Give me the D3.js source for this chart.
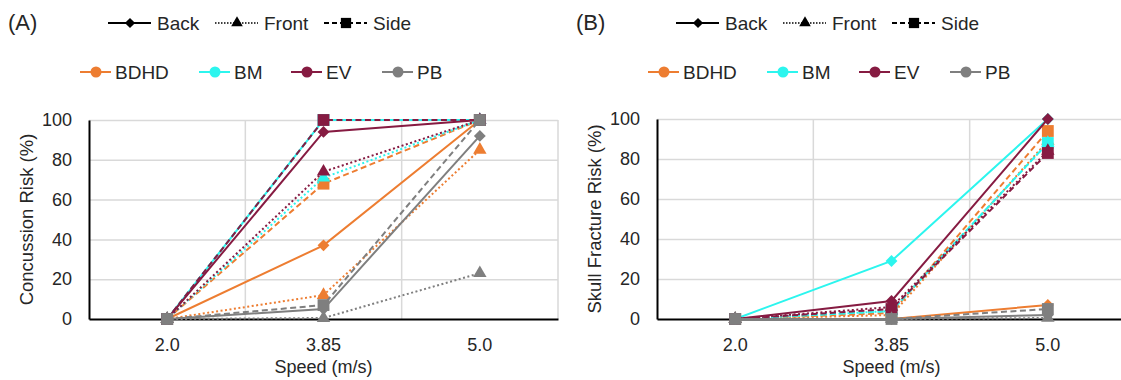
<!DOCTYPE html>
<html>
<head>
<meta charset="utf-8">
<script src="https://cdn.jsdelivr.net/npm/d3@7"></script>
<style>
  body { margin: 0; background: #fff; }
  svg { display: block; font-family: "Liberation Sans", Arial, sans-serif; }
</style>
</head>
<body>
<svg id="chart" width="1121" height="380"></svg>
<script>
const speeds = ['2.0', '3.85', '5.0'];
const helmets = ['BDHD', 'BM', 'EV', 'PB'];
const directions = ['Back', 'Front', 'Side'];

// concussion risk (%), one row per helmet (BDHD, BM, EV, PB)
const concussionBack = [[0, 37, 100], [0, 100, 100], [0, 94, 100], [0, 5, 92]];
const concussionFront = [[0, 12, 85], [0, 71, 100], [0, 74, 100], [0, 0.5, 23]];
const concussionSide = [[0, 68, 100], [0, 100, 100], [0, 100, 100], [0, 7, 100]];

// skull fracture risk (%)
const fractureBack = [[0, 0, 7], [0, 29, 100], [0, 9, 100], [0, 0, 2]];
const fractureFront = [[0, 2, 89], [0, 4, 88], [0, 6, 84], [0, 0, 0.5]];
const fractureSide = [[0, 3, 94], [0, 4, 88], [0, 5, 83], [0, 0, 5]];

const yTicks = [0, 20, 40, 60, 80, 100];

const COLORS = { BDHD: '#ED7D31', BM: '#2CF5EE', EV: '#861B42', PB: '#7F7F7F' };
const DASH = { Back: null, Front: '2,2.5', Side: '6,3.5' };
const TEXT = '#262626';

const svg = d3.select('#chart');

function markerPath(dir, scale) {
  const s = scale || 1;
  if (dir === 'Back') return d3.symbol(d3.symbolSquare, 70 * s)();
  if (dir === 'Front') return d3.symbol(d3.symbolTriangle, 78 * s)();
  return d3.symbol(d3.symbolSquare, 140 * s)();
}
function markerRotate(dir) { return dir === 'Back' ? ' rotate(45)' : ''; }

function drawPanel(opt) {
  const g = svg.append('g');
  const x = d3.scaleBand().domain(speeds).range([opt.left, opt.left + 469]).padding(0);
  const y = d3.scaleLinear().domain([0, 100]).range([319, opt.top]);
  const cx = (d) => x(d) + x.bandwidth() / 2;

  // gridlines
  g.append('g').attr('transform', `translate(${opt.left},0)`)
    .call(d3.axisLeft(y).tickValues(yTicks.slice(1)).tickSize(-469).tickFormat(''))
    .call((a) => a.select('.domain').remove())
    .selectAll('line').attr('stroke', '#d9d9d9').attr('stroke-width', 1.5);
  g.append('g').selectAll('line').data(speeds).enter().append('line')
    .attr('x1', (d) => x(d) + x.bandwidth()).attr('x2', (d) => x(d) + x.bandwidth())
    .attr('y1', opt.top).attr('y2', 319)
    .attr('stroke', '#d9d9d9').attr('stroke-width', 1.5);

  // axes
  const ya = g.append('g').attr('transform', `translate(${opt.left},0)`)
    .call(d3.axisLeft(y).tickValues(yTicks).tickSize(0).tickPadding(17));
  ya.select('.domain').attr('stroke', '#000').attr('stroke-width', 2);
  ya.selectAll('text').attr('font-size', 18).attr('fill', TEXT).attr('font-family', null);

  const xa = g.append('g').attr('transform', 'translate(0,319)')
    .call(d3.axisBottom(x).tickSize(0).tickPadding(19));
  xa.select('.domain').attr('stroke', '#000').attr('stroke-width', 2);
  xa.selectAll('text').attr('font-size', 18).attr('fill', TEXT).attr('font-family', null);

  g.append('text').attr('x', opt.left + 234.5).attr('y', 373)
    .attr('text-anchor', 'middle').attr('font-size', 18).attr('fill', TEXT).text('Speed (m/s)');
  g.append('text').attr('transform', `translate(${opt.left - 56},${(319 + opt.top) / 2}) rotate(-90)`)
    .attr('text-anchor', 'middle').attr('font-size', 18.5).attr('fill', TEXT).text(opt.yTitle);

  // series
  const line = d3.line().x((d, i) => cx(speeds[i])).y((d) => y(d));
  helmets.forEach((h, hi) => {
    directions.forEach((dir) => {
      const vals = opt.data[dir][hi];
      const sg = g.append('g');
      sg.append('path').attr('d', line(vals)).attr('fill', 'none')
        .attr('stroke', COLORS[h]).attr('stroke-width', 2)
        .attr('stroke-dasharray', DASH[dir]);
      sg.selectAll('path.m').data(vals).enter().append('path').attr('class', 'm')
        .attr('d', markerPath(dir))
        .attr('transform', (d, i) => `translate(${cx(speeds[i])},${y(d)})${markerRotate(dir)}`)
        .attr('fill', COLORS[h]);
    });
  });

  // legend
  const lg = svg.append('g').attr('transform', `translate(${opt.off},0)`);
  lg.append('text').attr('x', 8).attr('y', 30).attr('font-size', 22).attr('fill', TEXT).text(opt.label);
  const row1 = [108, 215, 324];
  directions.forEach((dir, i) => {
    const x0 = row1[i];
    lg.append('line').attr('x1', x0).attr('x2', x0 + 43).attr('y1', 23).attr('y2', 23)
      .attr('stroke', '#000').attr('stroke-width', dir === 'Front' ? 1.5 : 2)
      .attr('stroke-dasharray', dir === 'Front' ? '1.5,1.5' : (dir === 'Side' ? '5,3' : null));
    lg.append('path').attr('d', markerPath(dir, 0.75))
      .attr('transform', `translate(${x0 + 22},23)${markerRotate(dir)}`).attr('fill', '#000');
    lg.append('text').attr('x', x0 + 49).attr('y', 30).attr('font-size', 19).attr('fill', TEXT).text(dir);
  });
  const row2 = [80, 199, 291, 382];
  helmets.forEach((h, i) => {
    const x0 = row2[i];
    lg.append('line').attr('x1', x0).attr('x2', x0 + 31).attr('y1', 72).attr('y2', 72)
      .attr('stroke', COLORS[h]).attr('stroke-width', 2);
    lg.append('circle').attr('cx', x0 + 16).attr('cy', 72).attr('r', 5.5).attr('fill', COLORS[h]);
    lg.append('text').attr('x', x0 + 35).attr('y', 79).attr('font-size', 19).attr('fill', TEXT).text(h);
  });
}

drawPanel({
  left: 89, top: 120, off: 0, label: '(A)', yTitle: 'Concussion Risk (%)',
  data: { Back: concussionBack, Front: concussionFront, Side: concussionSide }
});
drawPanel({
  left: 657, top: 119, off: 568, label: '(B)', yTitle: 'Skull Fracture Risk (%)',
  data: { Back: fractureBack, Front: fractureFront, Side: fractureSide }
});
</script>
</body>
</html>
